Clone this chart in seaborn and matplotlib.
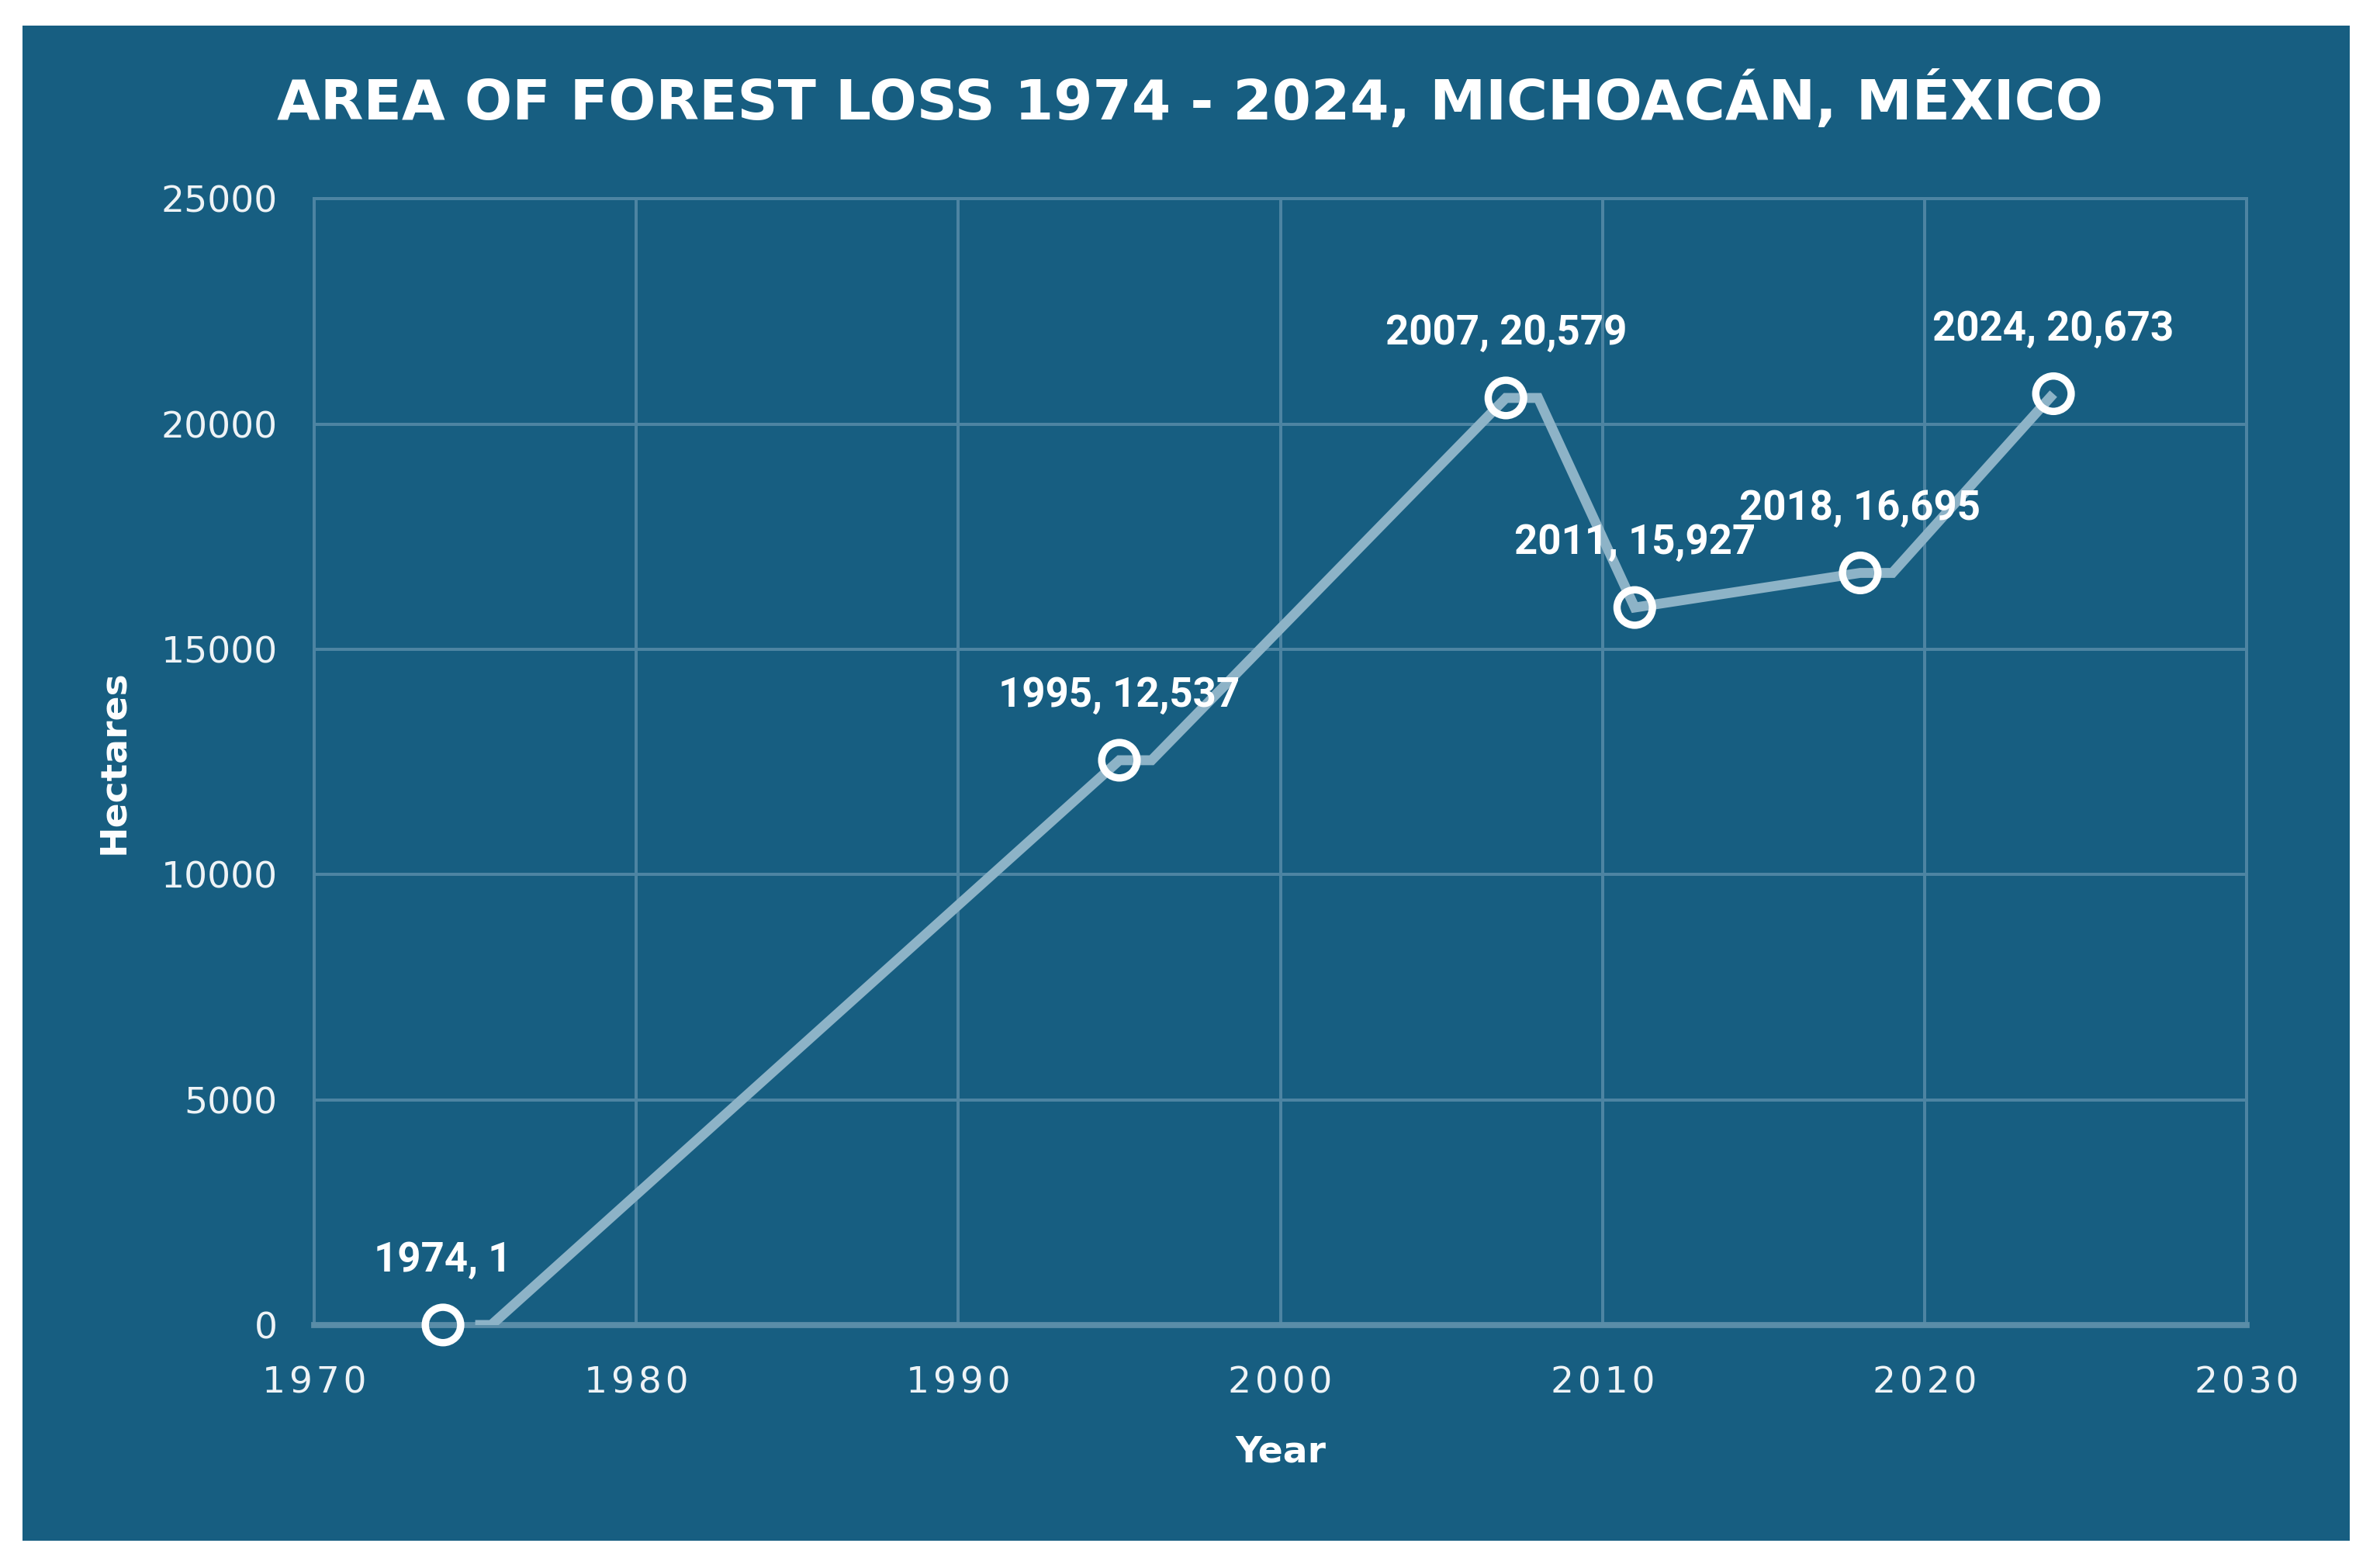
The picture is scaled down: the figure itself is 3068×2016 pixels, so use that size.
import matplotlib
matplotlib.use("Agg")
import matplotlib.pyplot as plt
import seaborn as sns
import pandas as pd
from matplotlib.patches import Rectangle
from matplotlib.ticker import FuncFormatter

# data
years = [1974, 1995, 2007, 2011, 2018, 2024]
hectares = [1, 12537, 20579, 15927, 16695, 20673]
labels = ["1974, 1", "1995, 12,537", "2007, 20,579", "2011, 15,927", "2018, 16,695", "2024, 20,673"]

# the drawn line sits slightly off the markers, with one-year flat bits
line_years = [1975, 1975.5, 1995, 1996, 2007, 2008, 2011, 2018, 2019, 2024]
line_values = [1, 1, 12537, 12537, 20579, 20579, 15927, 16695, 16695, 20673]

x_ticks = [1970, 1980, 1990, 2000, 2010, 2020, 2030]
y_ticks = [0, 5000, 10000, 15000, 20000, 25000]

bg = "#175E81"
line_col = "#8DB3C7"
grid_col = "#4D84A2"

pts = pd.DataFrame({"Year": years, "Hectares": hectares})
line = pd.DataFrame({"Year": line_years, "Hectares": line_values})

sns.set_theme(style="white")
plt.rcParams["font.family"] = ["DejaVu Sans"]

fig = plt.figure(figsize=(15.34, 10.08), dpi=200, facecolor="white")
fig.patches.append(Rectangle((0.0095, 0.0149), 0.9778, 0.9687, transform=fig.transFigure,
                             facecolor=bg, edgecolor="none", zorder=-10))

ax = fig.add_axes([0.132, 0.1528, 0.812, 0.7201])
ax.set_zorder(1)
ax.set_facecolor(bg)

sns.lineplot(data=line, x="Year", y="Hectares", ax=ax, color=line_col, linewidth=4.6,
             solid_capstyle="butt", solid_joinstyle="miter", zorder=3)
sns.scatterplot(data=pts, x="Year", y="Hectares", ax=ax, s=270, marker="o",
                facecolor="none", edgecolor="white", linewidth=3.4, zorder=4, clip_on=False)

for x, y, t in zip(years, hectares, labels):
    ax.annotate(t, (x, y), xytext=(0, 30), textcoords="offset points", ha="center", va="center",
                color="white", fontsize=19, fontweight="bold", family=["Roboto", "DejaVu Sans"],
                zorder=5, annotation_clip=False)

ax.set_xlim(1970, 2030)
ax.set_ylim(0, 25000)
ax.set_xticks(x_ticks)
ax.set_yticks(y_ticks)
# x tick labels are drawn with a bit of letter spacing
ax.xaxis.set_major_formatter(FuncFormatter(lambda v, p: "\u200a".join(str(int(v)))))
ax.grid(True, color=grid_col, linewidth=1.45)
ax.tick_params(length=0, colors="#EEF3F6", labelsize=17)
ax.tick_params(axis="y", pad=17)
ax.tick_params(axis="x", pad=19)

for s in ["left", "top", "right"]:
    ax.spines[s].set_color(grid_col)
    ax.spines[s].set_linewidth(1.45)
ax.spines["bottom"].set_color("#5A8DA8")
ax.spines["bottom"].set_linewidth(2.8)

ax.set_xlabel("Year", color="white", fontsize=17, fontweight="bold", va="center")
ax.set_ylabel("Hectares", color="white", fontsize=17, fontweight="bold", va="center")
ax.xaxis.set_label_coords(0.5, -0.113)
ax.yaxis.set_label_coords(-0.1036, 0.5)

fig.text(0.5, 0.935, "AREA OF FOREST LOSS 1974 - 2024, MICHOACÁN, MÉXICO", ha="center", va="center",
         color="white", fontsize=26, fontweight="bold")

fig.savefig("out.png", dpi=200, facecolor="white")
